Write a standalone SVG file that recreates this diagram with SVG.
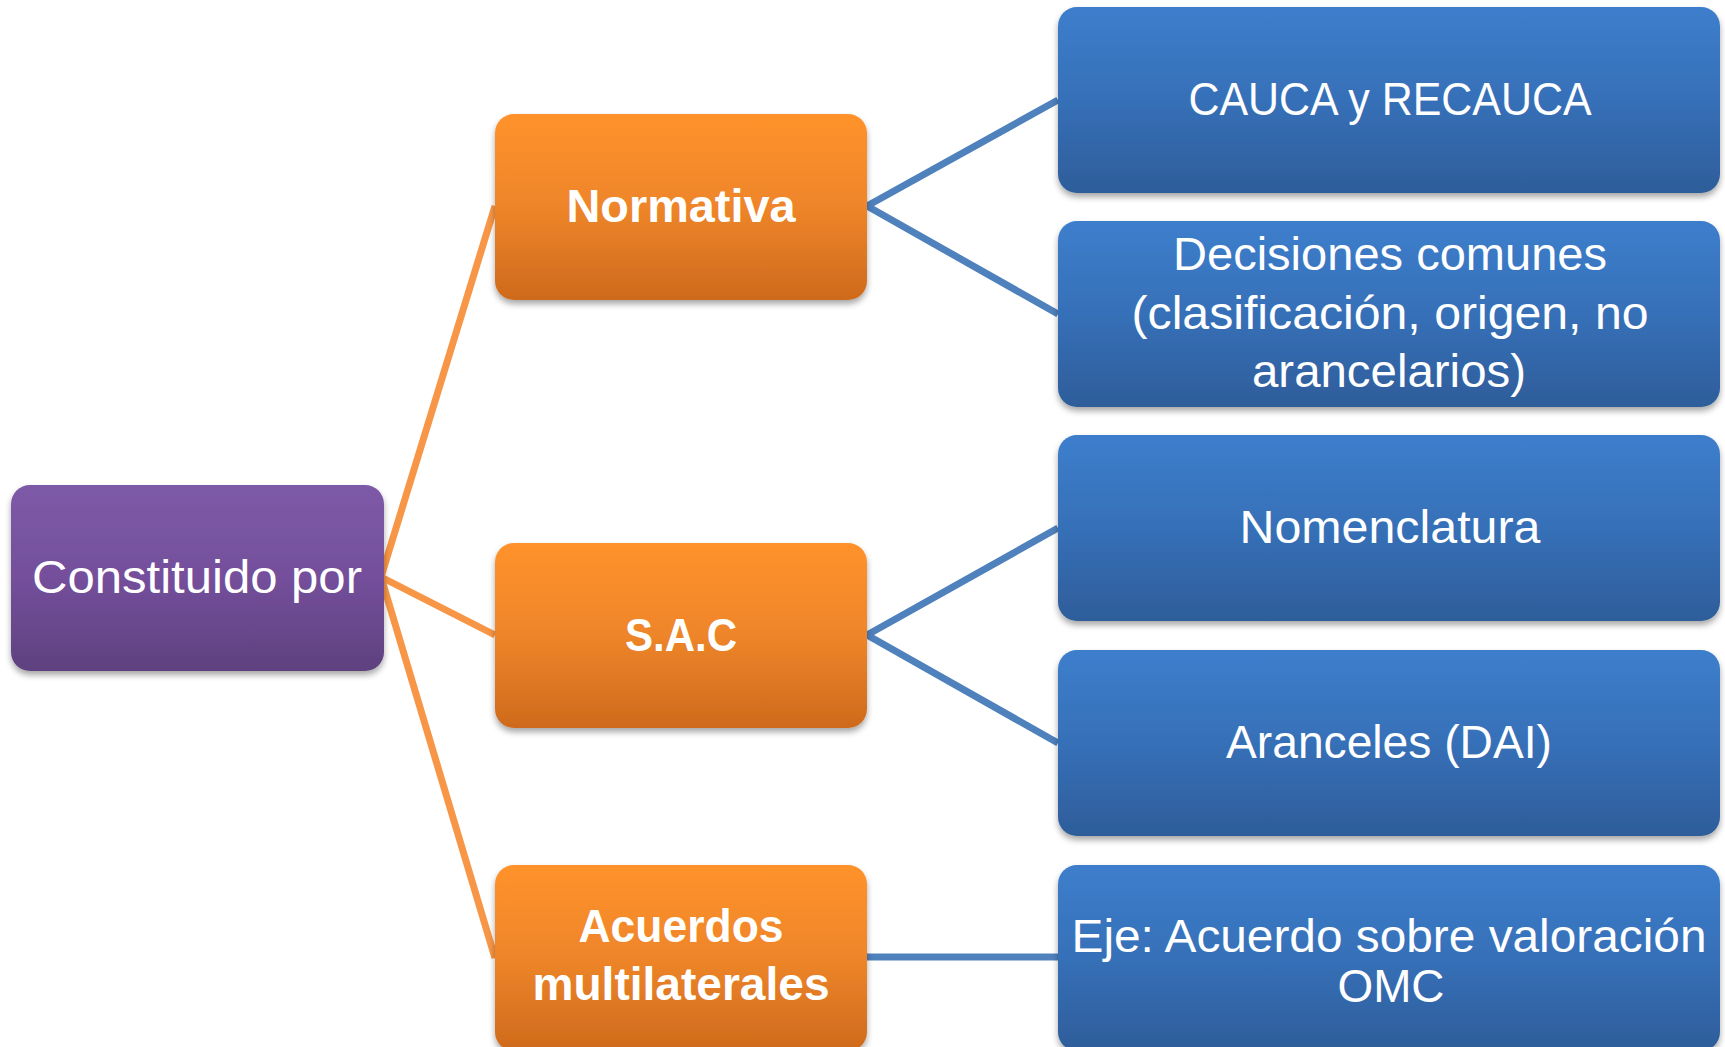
<svg xmlns="http://www.w3.org/2000/svg" width="1725" height="1047" viewBox="0 0 1725 1047">
<defs>
<linearGradient id="gP" x1="0" y1="0" x2="0" y2="1"><stop offset="0" stop-color="#7D5AA8"/><stop offset="0.5" stop-color="#744F9B"/><stop offset="1" stop-color="#5E417F"/></linearGradient>
<linearGradient id="gO" x1="0" y1="0" x2="0" y2="1"><stop offset="0" stop-color="#FF922B"/><stop offset="0.5" stop-color="#EE8529"/><stop offset="1" stop-color="#CE6A1D"/></linearGradient>
<linearGradient id="gB" x1="0" y1="0" x2="0" y2="1"><stop offset="0" stop-color="#3D7ECC"/><stop offset="0.5" stop-color="#3670B8"/><stop offset="1" stop-color="#2E5D9A"/></linearGradient>
<filter id="sh" x="-5%" y="-5%" width="110%" height="120%"><feDropShadow dx="0" dy="4" stdDeviation="3" flood-color="#000" flood-opacity="0.35"/></filter>
</defs>
<style>
.lbl{font-family:"Liberation Sans",Arial,sans-serif;font-size:46px;fill:#fff;text-anchor:middle}
.b{font-weight:bold}
.co{stroke:#F79646;stroke-width:7;fill:none}
.cb{stroke:#4F81BD;stroke-width:7;fill:none}
</style>
<rect width="1725" height="1047" fill="#fff"/>
<g id="connectors">
<line class="co" x1="381" y1="577" x2="495" y2="206"/>
<line class="co" x1="381" y1="577" x2="495" y2="635"/>
<line class="co" x1="381" y1="577" x2="495" y2="958"/>
<line class="cb" x1="867" y1="206" x2="1058" y2="100"/>
<line class="cb" x1="867" y1="206" x2="1058" y2="314"/>
<line class="cb" x1="867" y1="635" x2="1058" y2="528"/>
<line class="cb" x1="867" y1="635" x2="1058" y2="743"/>
<line class="cb" x1="867" y1="957" x2="1058" y2="957"/>
</g>
<g id="n-constituido">
<rect x="11" y="485" width="373" height="186" rx="19" fill="url(#gP)" filter="url(#sh)"/>
<text class="lbl" x="197" y="593" textLength="330" lengthAdjust="spacingAndGlyphs">Constituido por</text>
</g>
<g id="n-normativa">
<rect x="495" y="114" width="372" height="186" rx="19" fill="url(#gO)" filter="url(#sh)"/>
<text class="lbl b" x="681" y="222" textLength="229" lengthAdjust="spacingAndGlyphs">Normativa</text>
</g>
<g id="n-sac">
<rect x="495" y="543" width="372" height="185" rx="19" fill="url(#gO)" filter="url(#sh)"/>
<text class="lbl b" x="681" y="651" textLength="112" lengthAdjust="spacingAndGlyphs">S.A.C</text>
</g>
<g id="n-acuerdos">
<rect x="495" y="865" width="372" height="186" rx="19" fill="url(#gO)" filter="url(#sh)"/>
<text class="lbl b" x="681" y="942" textLength="205" lengthAdjust="spacingAndGlyphs">Acuerdos</text>
<text class="lbl b" x="681" y="1000" textLength="297" lengthAdjust="spacingAndGlyphs">multilaterales</text>
</g>
<g id="n-cauca">
<rect x="1058" y="7" width="662" height="186" rx="19" fill="url(#gB)" filter="url(#sh)"/>
<text class="lbl" x="1390" y="115" textLength="403" lengthAdjust="spacingAndGlyphs">CAUCA y RECAUCA</text>
</g>
<g id="n-decisiones">
<rect x="1058" y="221" width="662" height="186" rx="19" fill="url(#gB)" filter="url(#sh)"/>
<text class="lbl" x="1390" y="270" textLength="434" lengthAdjust="spacingAndGlyphs">Decisiones comunes</text>
<text class="lbl" x="1390" y="329" textLength="517" lengthAdjust="spacingAndGlyphs">(clasificación, origen, no</text>
<text class="lbl" x="1389" y="387" textLength="274" lengthAdjust="spacingAndGlyphs">arancelarios)</text>
</g>
<g id="n-nomenclatura">
<rect x="1058" y="435" width="662" height="186" rx="19" fill="url(#gB)" filter="url(#sh)"/>
<text class="lbl" x="1390" y="543" textLength="301" lengthAdjust="spacingAndGlyphs">Nomenclatura</text>
</g>
<g id="n-aranceles">
<rect x="1058" y="650" width="662" height="186" rx="19" fill="url(#gB)" filter="url(#sh)"/>
<text class="lbl" x="1389" y="758" textLength="326" lengthAdjust="spacingAndGlyphs">Aranceles (DAI)</text>
</g>
<g id="n-eje">
<rect x="1058" y="865" width="662" height="186" rx="19" fill="url(#gB)" filter="url(#sh)"/>
<text class="lbl" x="1389" y="952" textLength="635" lengthAdjust="spacingAndGlyphs">Eje: Acuerdo sobre valoración</text>
<text class="lbl" x="1391" y="1002" textLength="107" lengthAdjust="spacingAndGlyphs">OMC</text>
</g>
</svg>
